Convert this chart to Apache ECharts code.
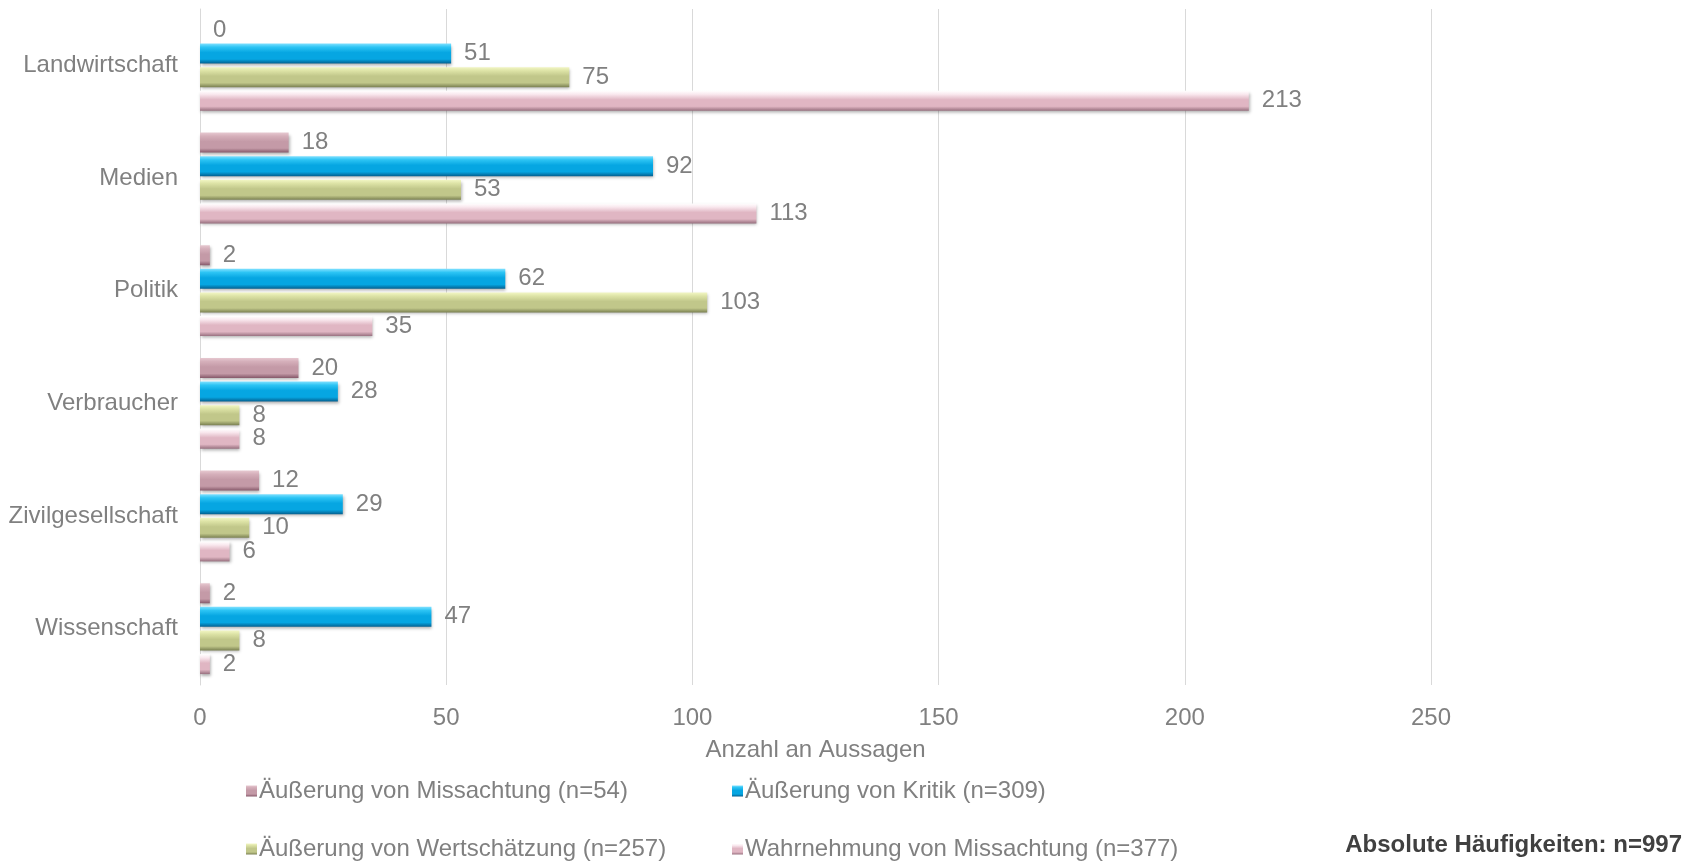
<!DOCTYPE html>
<html>
<head>
<meta charset="utf-8">
<script src="https://cdn.jsdelivr.net/npm/echarts@6/dist/echarts.min.js"></script>
<style>
  html, body { margin: 0; padding: 0; background: #ffffff; }
  #chart { width: 1698px; height: 862px; }
</style>
</head>
<body>
<div id="chart"></div>
<script>
// Akteursgruppen (von oben nach unten)
const categories = ['Landwirtschaft', 'Medien', 'Politik', 'Verbraucher', 'Zivilgesellschaft', 'Wissenschaft'];

// Anzahl der Aussagen je Kategorie und Art
const seriesNames = [
  'Äußerung von Missachtung (n=54)',
  'Äußerung von Kritik (n=309)',
  'Äußerung von Wertschätzung (n=257)',
  'Wahrnehmung von Missachtung (n=377)'
];
const missachtungAeusserung = [0, 18, 2, 20, 12, 2];
const kritik = [51, 92, 62, 28, 29, 47];
const wertschaetzung = [75, 53, 103, 8, 10, 8];
const missachtungWahrnehmung = [213, 113, 35, 8, 6, 2];

const xTicks = { min: 0, max: 250, interval: 50 };
const axisTitle = 'Anzahl an Aussagen';
const footnote = 'Absolute Häufigkeiten: n=997';

const FONT = '"Liberation Sans", Arial, sans-serif';
const GRAY = '#808080';
const FS = 24;

// bevel-like vertical gradient: light top edge, body colour, dark bottom edge
function bevel(top, mid, body, bottom) {
  return new echarts.graphic.LinearGradient(0, 0, 0, 1, [
    { offset: 0, color: top },
    { offset: 0.18, color: mid },
    { offset: 0.45, color: body },
    { offset: 0.78, color: body },
    { offset: 1, color: bottom }
  ]);
}

const styles = [
  bevel('#e6c8d0', '#d5afba', '#c49aa7', '#86596a'),
  bevel('#7fe0ff', '#2cc4f4', '#06a6e2', '#045f8f'),
  bevel('#f2f6c4', '#dde3a6', '#c1c78a', '#7b8152'),
  bevel('#ffffff', '#f9e8ee', '#e0b6c3', '#98707f')
];

const values = [missachtungAeusserung, kritik, wertschaetzung, missachtungWahrnehmung];

const series = values.map((data, i) => ({
  name: seriesNames[i],
  type: 'bar',
  data: data,
  barWidth: 20,
  barGap: '18%',
  itemStyle: {
    color: styles[i],
    shadowColor: 'rgba(0,0,0,0.3)',
    shadowBlur: 3,
    shadowOffsetX: 1,
    shadowOffsetY: 2
  },
  label: {
    show: true,
    position: 'right',
    distance: 13,
    color: GRAY,
    fontFamily: FONT,
    fontSize: FS
  },
  emphasis: { disabled: true }
}));

// one legend per entry so the two-column layout sits where it should
const legendPos = [
  { left: 246, top: 779 },
  { left: 732, top: 779 },
  { left: 246, top: 837 },
  { left: 732, top: 837 }
];
const legends = seriesNames.map((name, i) => ({
  data: [name],
  left: legendPos[i].left,
  top: legendPos[i].top,
  padding: 0,
  itemWidth: 11,
  itemHeight: 11,
  itemGap: 0,
  icon: 'rect',
  itemStyle: { color: styles[i], shadowBlur: 0, shadowOffsetX: 0, shadowOffsetY: 0 },
  textStyle: { color: GRAY, fontFamily: FONT, fontSize: FS, padding: [0, 0, 0, -3] },
  selectedMode: false
}));

const chart = echarts.init(document.getElementById('chart'), null, { renderer: 'canvas' });
chart.setOption({
  animation: false,
  backgroundColor: '#ffffff',
  grid: { left: 200, right: 267, top: 9, bottom: 177, containLabel: false },
  xAxis: {
    type: 'value',
    min: xTicks.min,
    max: xTicks.max,
    interval: xTicks.interval,
    name: axisTitle,
    nameLocation: 'middle',
    nameGap: 53,
    nameTextStyle: { color: GRAY, fontFamily: FONT, fontSize: FS },
    axisLine: { show: false },
    axisTick: { show: false },
    axisLabel: { color: GRAY, fontFamily: FONT, fontSize: FS, margin: 21 },
    splitLine: { show: true, lineStyle: { color: '#d9d9d9', width: 1 } }
  },
  yAxis: {
    type: 'category',
    data: categories,
    inverse: true,
    axisLine: { show: true, lineStyle: { color: '#d9d9d9', width: 1 } },
    axisTick: { show: false },
    axisLabel: { color: GRAY, fontFamily: FONT, fontSize: FS, margin: 22 }
  },
  legend: legends,
  graphic: [{
    type: 'text',
    right: 16,
    top: 833,
    style: {
      text: footnote,
      fill: '#404040',
      font: 'bold ' + FS + 'px ' + FONT
    }
  }],
  series: series
});
</script>
</body>
</html>
